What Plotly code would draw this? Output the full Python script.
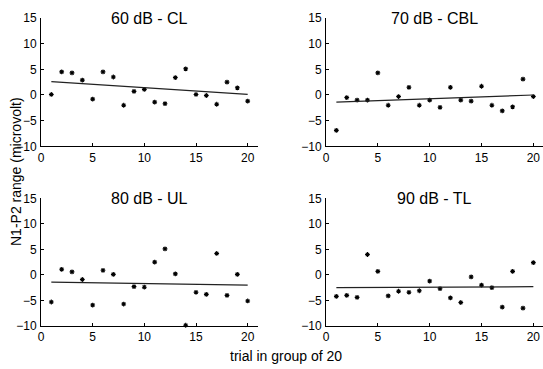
import plotly.graph_objects as go

trials = list(range(1, 21))

titles = ["60 dB - CL", "70 dB - CBL", "80 dB - UL", "90 dB - TL"]

cl_60 = [0.1, 4.5, 4.3, 2.9, -0.8, 4.5, 3.5, -2.0, 0.7, 1.1,
         -1.4, -1.7, 3.4, 5.1, 0.1, -0.1, -1.8, 2.5, 1.4, -1.2]
cbl_70 = [-6.9, -0.5, -1.0, -1.0, 4.3, -2.0, -0.3, 1.5, -2.0, -1.0,
          -2.4, 1.5, -1.0, -1.2, 1.7, -2.0, -3.1, -2.3, 3.1, -0.3]
ul_80 = [-5.3, 1.1, 0.6, -0.9, -5.9, 0.9, 0.1, -5.7, -2.3, -2.4,
         2.5, 5.1, 0.2, -9.85, -3.4, -3.8, 4.2, -4.0, 0.1, -5.1]
tl_90 = [-4.2, -4.0, -4.4, 4.0, 0.7, -4.1, -3.2, -3.4, -3.1, -1.2,
         -2.7, -4.5, -5.4, -0.4, -2.0, -2.5, -6.3, 0.7, -6.5, 2.4]

# linear fit lines: value at trial 1 and at trial 20
fit_x = [1, 20]
fit_60 = [2.6, 0.1]
fit_70 = [-1.4, 0.0]
fit_80 = [-1.4, -2.0]
fit_90 = [-2.5, -2.3]

series = [cl_60, cbl_70, ul_80, tl_90]
fits = [fit_60, fit_70, fit_80, fit_90]

x_ticks = [0, 5, 10, 15, 20]
y_ticks = [-10, -5, 0, 5, 10, 15]

fig = go.Figure()

x_domains = [[0, 0.4323], [0.5677, 1.0], [0, 0.4323], [0.5677, 1.0]]
y_domains = [[0.5834, 1.0], [0.5834, 1.0], [0, 0.4146], [0, 0.4146]]
x_ranges = [[0, 21], [0, 20.93], [0, 21], [0, 20.93]]

font_family = "Liberation Sans, Arial, sans-serif"

for i in range(4):
    n = "" if i == 0 else str(i + 1)
    fig.add_trace(go.Scatter(
        x=trials, y=series[i], mode="markers",
        marker=dict(symbol="asterisk", size=4, color="black",
                    line=dict(color="black", width=1.1)),
        xaxis="x" + n, yaxis="y" + n, showlegend=False, cliponaxis=False))
    fig.add_trace(go.Scatter(
        x=fit_x, y=fits[i], mode="lines",
        line=dict(color="#222222", width=1.2),
        xaxis="x" + n, yaxis="y" + n, showlegend=False))
    axis_common = dict(showgrid=False, zeroline=False, showline=True,
                       linecolor="black", linewidth=1, ticks="inside",
                       ticklen=3, tickcolor="black", mirror=False,
                       ticklabeloverflow="allow",
                       tickfont=dict(size=12, color="black", family=font_family))
    fig.layout["xaxis" + n] = dict(domain=x_domains[i], range=x_ranges[i],
                                   tickvals=x_ticks, anchor="y" + n,
                                   ticklabelstandoff=0, **axis_common)
    fig.layout["yaxis" + n] = dict(domain=y_domains[i], range=[-10, 15],
                                   tickvals=y_ticks, anchor="x" + n,
                                   ticklabelstandoff=1, **axis_common)
    fig.add_annotation(text=titles[i], xref="paper", yref="paper",
                       x=(x_domains[i][0] + x_domains[i][1]) / 2,
                       y=y_domains[i][1], xanchor="center", yanchor="middle",
                       showarrow=False,
                       font=dict(size=16, color="black", family=font_family))

fig.add_annotation(text="N1-P2 range (microvolt)", xref="paper", yref="paper",
                   x=0, y=0.5, xshift=-25, yshift=0, textangle=-90,
                   xanchor="center", yanchor="middle", showarrow=False,
                   font=dict(size=14, color="black", family=font_family))
fig.add_annotation(text="trial in group of 20", xref="paper", yref="paper",
                   x=0.488, y=0, yshift=-30, xanchor="center", yanchor="middle",
                   showarrow=False,
                   font=dict(size=14, color="black", family=font_family))

fig.update_layout(width=543, height=369,
                  margin=dict(l=41, r=0, t=18, b=43),
                  paper_bgcolor="white", plot_bgcolor="white",
                  font=dict(family=font_family, color="black"))

# remove the browser's default 8px body margin so the figure fills the window
fig.write_html("out.html",
               config={"displayModeBar": False},
               post_script="document.body.style.margin='0';"
                           "document.body.style.overflow='hidden';")
